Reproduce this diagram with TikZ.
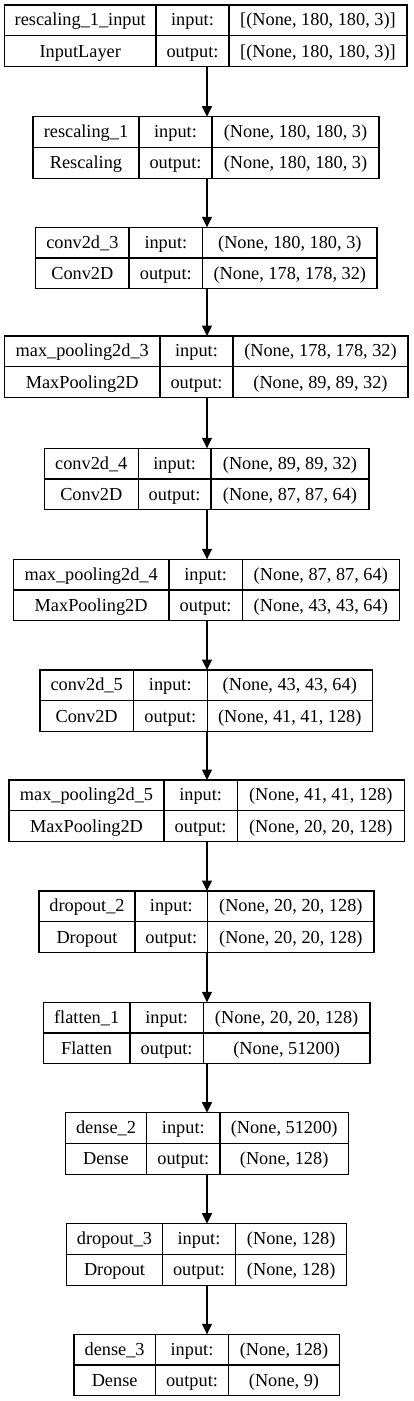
\documentclass[tikz,border=0pt]{standalone}
\usepackage{fontspec}
\setmainfont{Liberation Serif}
\usetikzlibrary{arrows.meta}
\tikzset{
  lay/.style={draw=black, line width=1.3pt},
  boxnode/.style={lay, rectangle, inner sep=0pt, outer sep=0pt, anchor=north west},
  txt/.style={anchor=base, inner sep=0pt, font=\fontsize{18.3}{20}\selectfont},
  arr/.style={draw=black, line width=1.3pt, -{Triangle[length=10.5pt,width=10pt]}}
}
\newcommand{\Lset}[6]{\def\Lname{#1}\def\Ltop{#2}\def\La{#3}\def\Lb{#4}\def\Lc{#5}\def\Ld{#6}}
\newcommand{\Ldraw}[4]{%
  \pgfmathsetmacro\Lw{\Ld-\La}%
  \pgfmathsetmacro\Lbot{\Ltop+61.5}%
  \pgfmathsetmacro\Lya{\Ltop+20.8}%
  \pgfmathsetmacro\Lyb{\Ltop+52}%
  \pgfmathsetmacro\Lxa{(\La+\Lb)/2}%
  \pgfmathsetmacro\Lxb{(\Lb+\Lc)/2}%
  \pgfmathsetmacro\Lxc{(\Lc+\Ld)/2}%
  \node[boxnode, minimum width=\Lw pt, minimum height=61.5pt] (\Lname) at (\La,\Ltop) {};
  \draw[lay] (\Lname.west) -- (\Lname.east);
  \draw[lay] (\Lb,\Ltop) -- (\Lb,\Lbot);
  \draw[lay] (\Lc,\Ltop) -- (\Lc,\Lbot);
  \node[txt] (\Lname-n) at (\Lxa,\Lya) {#1};
  \node[txt] (\Lname-i) at (\Lxb,\Lya) {input:};
  \node[txt] (\Lname-v) at (\Lxc,\Lya) {#3};
  \node[txt] (\Lname-t) at (\Lxa,\Lyb) {#2};
  \node[txt] (\Lname-o) at (\Lxb,\Lyb) {output:};
  \node[txt] (\Lname-w) at (\Lxc,\Lyb) {#4};
}
\begin{document}
\begin{tikzpicture}[x=1pt,y=-1pt]
\useasboundingbox (0,0) rectangle (413,1401);
\coordinate (ax) at (207,0);

\Lset{b1}{5}{4.5}{156}{229}{407}
\Ldraw{rescaling\_1\_input}{InputLayer}{[(None, 180, 180, 3)]}{[(None, 180, 180, 3)]}
\Lset{b2}{116.7}{33}{139}{212}{379}
\Ldraw{rescaling\_1}{Rescaling}{(None, 180, 180, 3)}{(None, 180, 180, 3)}
\Lset{b3}{227.3}{35.7}{129}{202.7}{377}
\Ldraw{conv2d\_3}{Conv2D}{(None, 180, 180, 3)}{(None, 178, 178, 32)}
\Lset{b4}{336}{4.5}{160}{233}{408}
\Ldraw{max\_pooling2d\_3}{MaxPooling2D}{(None, 178, 178, 32)}{(None, 89, 89, 32)}
\Lset{b5}{448.3}{44.3}{138.3}{211}{369}
\Ldraw{conv2d\_4}{Conv2D}{(None, 89, 89, 32)}{(None, 87, 87, 64)}
\Lset{b6}{559.3}{13.3}{169}{242.3}{399.3}
\Ldraw{max\_pooling2d\_4}{MaxPooling2D}{(None, 87, 87, 64)}{(None, 43, 43, 64)}
\Lset{b7}{670}{40}{133.3}{207.3}{372.3}
\Ldraw{conv2d\_5}{Conv2D}{(None, 43, 43, 64)}{(None, 41, 41, 128)}
\Lset{b8}{780}{9}{164}{237.3}{404.3}
\Ldraw{max\_pooling2d\_5}{MaxPooling2D}{(None, 41, 41, 128)}{(None, 20, 20, 128)}
\Lset{b9}{891}{39}{135}{207.7}{374}
\Ldraw{dropout\_2}{Dropout}{(None, 20, 20, 128)}{(None, 20, 20, 128)}
\Lset{b10}{1002.3}{43.3}{130}{203.3}{370}
\Ldraw{flatten\_1}{Flatten}{(None, 20, 20, 128)}{(None, 51200)}
\Lset{b11}{1112.7}{65.3}{146.7}{220}{348.3}
\Ldraw{dense\_2}{Dense}{(None, 51200)}{(None, 128)}
\Lset{b12}{1223.7}{66.7}{162.3}{235.7}{346.7}
\Ldraw{dropout\_3}{Dropout}{(None, 128)}{(None, 128)}
\Lset{b13}{1334.3}{74}{155.3}{228.7}{339.3}
\Ldraw{dense\_3}{Dense}{(None, 128)}{(None, 9)}

\foreach \a/\b in {b1/b2,b2/b3,b3/b4,b4/b5,b5/b6,b6/b7,b7/b8,b8/b9,b9/b10,b10/b11,b11/b12,b12/b13}
  \draw[arr] (\a.south -| ax) -- (\b.north -| ax);
\end{tikzpicture}
\end{document}
